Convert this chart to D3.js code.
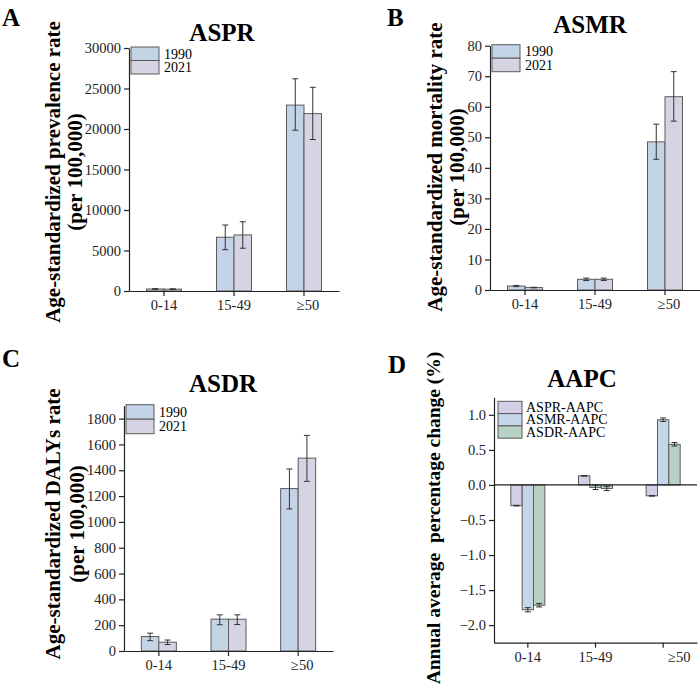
<!DOCTYPE html>
<html>
<head>
<meta charset="utf-8">
<script src="https://cdn.jsdelivr.net/npm/d3@7"></script>
<style>
  body { margin: 0; background: #fff; }
  svg, svg text { font-family: 'Liberation Serif', 'Times New Roman', serif; }
  .axis path, .axis line { stroke: #222; stroke-width: 1.2; }
  .axis text { font-size: 14.5px; fill: #222; }
</style>
</head>
<body>
<svg id="chart" width="700" height="695"></svg>
<script>
const ageGroups = ['0-14', '15-49', '≥50'];
const years = ['1990', '2021'];

// ASPR (per 100,000)
const aspr1990 = [250, 6640, 22950];
const aspr1990Lo = [210, 5100, 19850];
const aspr1990Hi = [290, 8150, 26200];
const aspr2021 = [230, 6920, 21900];
const aspr2021Lo = [190, 5280, 18700];
const aspr2021Hi = [270, 8550, 25150];

// ASMR (per 100,000)
const asmr1990 = [1.3, 3.5, 48.5];
const asmr1990Lo = [1.1, 3.1, 42.8];
const asmr1990Hi = [1.5, 3.9, 54.3];
const asmr2021 = [0.8, 3.5, 63.3];
const asmr2021Lo = [0.7, 3.1, 55.3];
const asmr2021Hi = [0.9, 3.9, 71.5];

// ASDR (per 100,000)
const asdr1990 = [112, 247, 1258];
const asdr1990Lo = [80, 203, 1100];
const asdr1990Hi = [138, 280, 1410];
const asdr2021 = [68, 246, 1494];
const asdr2021Lo = [50, 205, 1314];
const asdr2021Hi = [85, 280, 1670];

// AAPC (%)
const aapcSeries = ['ASPR-AAPC', 'ASMR-AAPC', 'ASDR-AAPC'];
const asprAapc = [-0.295, 0.13, -0.155];
const asprAapcLo = [-0.3, 0.125, -0.16];
const asprAapcHi = [-0.29, 0.135, -0.15];
const asmrAapc = [-1.78, -0.035, 0.93];
const asmrAapcLo = [-1.81, -0.065, 0.905];
const asmrAapcHi = [-1.75, -0.005, 0.955];
const asdrAapc = [-1.715, -0.05, 0.58];
const asdrAapcLo = [-1.74, -0.08, 0.555];
const asdrAapcHi = [-1.69, -0.02, 0.605];

const yearColors = ['#c2d4e5', '#d6d3e3'];
const aapcColors = ['#d4cee6', '#c4d6e7', '#b7d1c5'];
const barStroke = '#5a5a5a';
const errStroke = '#333';
const serif = "'Liberation Serif', 'Times New Roman', serif";

const svg = d3.select('#chart');

function rows(vals, lo, hi) {
	return vals.map((v, i) => ({group: ageGroups[i], value: v, lo: lo[i], hi: hi[i]}));
}

// d3 axes put sans-serif on the group, swap it back
function serifAxis(sel) {
	sel.attr('font-family', serif).attr('font-size', null);
	sel.selectAll('text').attr('font-family', serif);
}

function drawErrors(g, data, xPos, w, y) {
	const e = g.selectAll('.err').data(data).enter().append('g').attr('class', 'err')
		.attr('stroke', errStroke).attr('stroke-width', 1);
	e.append('line')
		.attr('x1', (d) => xPos(d) + w / 2).attr('x2', (d) => xPos(d) + w / 2)
		.attr('y1', (d) => y(d.lo)).attr('y2', (d) => y(d.hi));
	e.append('line')
		.attr('x1', (d) => xPos(d) + w / 2 - 3).attr('x2', (d) => xPos(d) + w / 2 + 3)
		.attr('y1', (d) => y(d.hi)).attr('y2', (d) => y(d.hi));
	e.append('line')
		.attr('x1', (d) => xPos(d) + w / 2 - 3).attr('x2', (d) => xPos(d) + w / 2 + 3)
		.attr('y1', (d) => y(d.lo)).attr('y2', (d) => y(d.lo));
}

function drawLabels(cfg) {
	svg.append('text')
		.attr('x', cfg.letter[0]).attr('y', cfg.letter[1])
		.style('font-size', '25px').style('font-weight', 'bold')
		.text(cfg.letterText);

	svg.append('text')
		.attr('x', cfg.title[0]).attr('y', cfg.title[1])
		.attr('text-anchor', 'middle').attr('dy', '0.35em')
		.style('font-size', '25px').style('font-weight', 'bold')
		.text(cfg.titleText);

	cfg.yLabel.forEach((line, i) => {
		svg.append('text')
			.attr('transform', 'translate(' + cfg.yLabelX[i] + ',' + cfg.yLabelY + ') rotate(-90)')
			.attr('text-anchor', 'middle').attr('dy', '0.35em')
			.style('font-size', cfg.yLabelSize + 'px').style('font-weight', 'bold')
			.style('white-space', 'pre')
			.text(line);
	});
}

function drawYearPanel(cfg) {
	const x0 = d3.scaleBand().domain(ageGroups).range(cfg.xRange);
	const bw = x0.bandwidth();
	const x1 = d3.scaleBand().domain(years).range([bw / 2 - 17.5, bw / 2 + 17.5]);
	const y = d3.scaleLinear().domain(cfg.yDomain).range(cfg.yRange);

	const g = svg.append('g');

	cfg.series.forEach((s, si) => {
		const data = rows(s.values, s.lo, s.hi);
		const xPos = (d) => x0(d.group) + x1(years[si]);
		g.append('g').selectAll('rect').data(data).enter().append('rect')
			.attr('x', xPos)
			.attr('y', (d) => y(d.value))
			.attr('width', x1.bandwidth())
			.attr('height', (d) => y(0) - y(d.value))
			.style('fill', yearColors[si])
			.style('stroke', barStroke).style('stroke-width', 1);
		drawErrors(g.append('g'), data, xPos, x1.bandwidth(), y);
	});

	svg.append('g').attr('class', 'axis')
		.attr('transform', 'translate(' + cfg.xRange[0] + ',0)')
		.call(d3.axisLeft(y).tickValues(cfg.yTicks).tickFormat(d3.format('d')).tickSize(5).tickSizeOuter(0))
		.call(serifAxis);

	const xa = svg.append('g').attr('class', 'axis')
		.attr('transform', 'translate(0,' + cfg.yRange[0] + ')')
		.call(d3.axisBottom(x0).tickSize(5).tickSizeOuter(0).tickPadding(4))
		.call(serifAxis);
	xa.selectAll('text').attr('dx', (d) => d === '≥50' ? 4 : 0);

	// legend
	const lg = svg.append('g').attr('transform', 'translate(' + (cfg.xRange[0] + 2) + ',' + (cfg.yRange[1] - 1) + ')');
	years.forEach((yr, i) => {
		lg.append('rect')
			.attr('x', 0).attr('y', i * cfg.legendH)
			.attr('width', 28).attr('height', cfg.legendH)
			.style('fill', yearColors[i]).style('stroke', barStroke).style('stroke-width', 1);
		lg.append('text')
			.attr('x', 33).attr('y', i * cfg.legendH + cfg.legendH / 2)
			.attr('dy', '0.35em').style('font-size', '14px')
			.text(yr);
	});

	drawLabels(cfg);
}

function drawAapcPanel(cfg) {
	const x0 = d3.scaleBand().domain(ageGroups).range(cfg.xRange);
	const bw = x0.bandwidth();
	const x1 = d3.scaleBand().domain(aapcSeries).range([bw / 2 - 17, bw / 2 + 17]);
	const y = d3.scaleLinear().domain(cfg.yDomain).range(cfg.yRange);

	const g = svg.append('g');

	cfg.series.forEach((s, si) => {
		const data = rows(s.values, s.lo, s.hi);
		const xPos = (d) => x0(d.group) + x1(aapcSeries[si]);
		g.append('g').selectAll('rect').data(data).enter().append('rect')
			.attr('x', xPos)
			.attr('y', (d) => y(Math.max(0, d.value)))
			.attr('width', x1.bandwidth())
			.attr('height', (d) => Math.abs(y(d.value) - y(0)))
			.style('fill', aapcColors[si])
			.style('stroke', barStroke).style('stroke-width', 1);
		drawErrors(g.append('g'), data, xPos, x1.bandwidth(), y);
	});

	svg.append('g').attr('class', 'axis')
		.attr('transform', 'translate(' + cfg.xRange[0] + ',0)')
		.call(d3.axisLeft(y).tickValues(cfg.yTicks).tickFormat(d3.format('.1f')).tickSize(5).tickSizeOuter(0))
		.call(serifAxis);

	// zero line
	svg.append('line')
		.attr('x1', cfg.xRange[0]).attr('x2', cfg.xRange[1])
		.attr('y1', y(0)).attr('y2', y(0))
		.style('stroke', '#222').style('stroke-width', 1.2);

	const xa = svg.append('g').attr('class', 'axis')
		.attr('transform', 'translate(0,' + cfg.yRange[0] + ')')
		.call(d3.axisBottom(x0).tickSize(5).tickSizeOuter(0).tickPadding(4))
		.call(serifAxis);
	xa.selectAll('text').attr('dx', (d) => d === '≥50' ? 16 : 0);

	const lg = svg.append('g').attr('transform', 'translate(' + (cfg.xRange[0] + 4) + ',' + (cfg.yRange[1] + 4) + ')');
	aapcSeries.forEach((name, i) => {
		lg.append('rect')
			.attr('x', 0).attr('y', i * 12.3)
			.attr('width', 24).attr('height', 12.3)
			.style('fill', aapcColors[i]).style('stroke', barStroke).style('stroke-width', 1);
		lg.append('text')
			.attr('x', 28).attr('y', i * 12.3 + 6)
			.attr('dy', '0.35em').style('font-size', '14px')
			.text(name);
	});

	drawLabels(cfg);
}

drawYearPanel({
	letterText: 'A', letter: [2, 26],
	titleText: 'ASPR', title: [222, 32],
	yLabel: ['Age-standardized prevalence rate', '(per 100,000)'], yLabelX: [53, 75], yLabelY: 172, yLabelSize: 21,
	xRange: [129, 339], yRange: [291, 48], yDomain: [0, 30000],
	yTicks: d3.range(0, 30001, 5000), legendH: 13.5,
	series: [
		{values: aspr1990, lo: aspr1990Lo, hi: aspr1990Hi},
		{values: aspr2021, lo: aspr2021Lo, hi: aspr2021Hi}
	]
});

drawYearPanel({
	letterText: 'B', letter: [387, 26],
	titleText: 'ASMR', title: [590, 24],
	yLabel: ['Age-standardized mortality rate', '(per 100,000)'], yLabelX: [435, 457], yLabelY: 167, yLabelSize: 21,
	xRange: [490, 700], yRange: [290, 45.7], yDomain: [0, 80],
	yTicks: d3.range(0, 81, 10), legendH: 13.5,
	series: [
		{values: asmr1990, lo: asmr1990Lo, hi: asmr1990Hi},
		{values: asmr2021, lo: asmr2021Lo, hi: asmr2021Hi}
	]
});

drawYearPanel({
	letterText: 'C', letter: [2, 367],
	titleText: 'ASDR', title: [223, 383],
	yLabel: ['Age-standardized DALYs rate', '(per 100,000)'], yLabelX: [53, 77], yLabelY: 524, yLabelSize: 21,
	xRange: [124, 333], yRange: [651, 405.7], yDomain: [0, 1900],
	yTicks: d3.range(0, 1801, 200), legendH: 14.5,
	series: [
		{values: asdr1990, lo: asdr1990Lo, hi: asdr1990Hi},
		{values: asdr2021, lo: asdr2021Lo, hi: asdr2021Hi}
	]
});

drawAapcPanel({
	letterText: 'D', letter: [388, 373],
	titleText: 'AAPC', title: [582, 378],
	yLabel: ['Annual average  percentage change (%)'], yLabelX: [433], yLabelY: 518, yLabelSize: 19.5,
	xRange: [494, 697], yRange: [642.7, 397.3], yDomain: [-2.25, 1.25],
	yTicks: d3.range(-2, 1.01, 0.5),
	series: [
		{values: asprAapc, lo: asprAapcLo, hi: asprAapcHi},
		{values: asmrAapc, lo: asmrAapcLo, hi: asmrAapcHi},
		{values: asdrAapc, lo: asdrAapcLo, hi: asdrAapcHi}
	]
});
</script>
</body>
</html>
